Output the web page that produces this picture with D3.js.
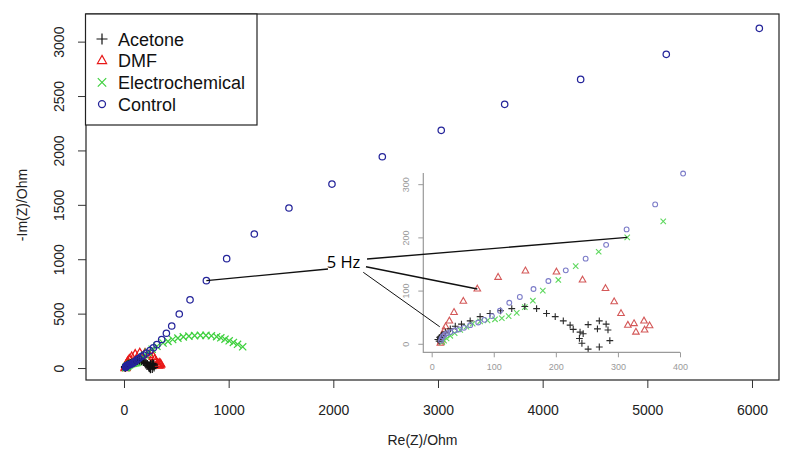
<!DOCTYPE html>
<html><head><meta charset="utf-8">
<script src="https://cdn.jsdelivr.net/npm/d3@7"></script>
<style>body{margin:0;background:#fff}svg{display:block}</style>
</head><body>
<svg id="chart" width="787" height="453"></svg>
<script>
// ---------- data ----------
const seriesNames = ["Acetone", "DMF", "Electrochemical", "Control"];

const acetoneRe = [10,12,13,14,15,16,22,30,38,48,62,78,94,111,129,150,169,185,199,212,223,228,239,244,238,242,252,270,287,284,267,270,281,252];
const acetoneIm = [8,5,12,10,14,16,22,28,33,37,43,51,57,62,66,70,66,57,51,43,35,27,22,19,10,1,-10,-6,6,26,28,43,37,36];

const dmfRe = [14,15,16,17,18,20,22.5,28.5,36,51,73.5,107,151,201,243,280,294,305,316,326,329,343,342,351];
const dmfIm = [1,4,8,12,17,24,32,43,59,80,103,125,137,135,120,104,79,57,35,38,22,26,43,34];

const electroRe = [17,20,24,30,37,46,56,66,78,90,102,113,124,137,150,163,179,204,232,269,315,373,420,465,515,567,620,675,730,783,835,885,925,965,1005,1045,1085,1134];
const electroIm = [3,6,10,15,20,26,32,38,42,44,46,48,52,58,69,81,100,120,146,173,200,230,245,262,275,286,293,298,300,300,296,288,278,265,250,235,218,195];

const controlRe = [15,16,18,21,25,30,37,44,52,62,75,85,97,110,125,142,164,188,216,248,281,314,360,405,456,528,631,787,981,1245,1576,1987,2468,3031,3637,4363,5181,6070];
const controlIm = [6,10,14,17,20,22,25,27,30,35,40,45,52,62,77,88,103,118,138,160,186,215,262,320,386,497,627,803,1005,1232,1471,1691,1942,2185,2424,2653,2883,3122];

const mainXTicks = [0,1000,2000,3000,4000,5000,6000];
const mainYTicks = [0,500,1000,1500,2000,2500,3000];
const insetXTicks = [0,100,200,300,400];
const insetYTicks = [0,100,200,300];

const annoText = "5 Hz";
const annoAnchor = [2097, 974];           // main-plot data coords
const annoLines = [
  {from:[1949,910],  to:[787,803],  panel:"main"},
  {from:[2322,1002], to:[315,200],  panel:"inset"},
  {from:[2312,931],  to:[73.5,103], panel:"inset"},
  {from:[2286,880],  to:[13,32],    panel:"inset"}
];

// ---------- layout ----------
const W = 787, H = 453;
const svg = d3.select("#chart");
svg.append("rect").attr("width", W).attr("height", H).attr("fill", "#fff");

const box = {left:86, right:779, top:14, bottom:380};
const x = d3.scaleLinear().domain([-363, 6258]).range([box.left, box.right]);
const y = d3.scaleLinear().domain([-110, 3254]).range([box.bottom, box.top]);

const ibox = {left:423.3, right:680, top:173, bottom:352.3};
const xi = d3.scaleLinear().domain([-13.5, 400]).range([ibox.left, ibox.right]);
const yi = d3.scaleLinear().domain([-16, 321]).range([ibox.bottom, ibox.top]);

const FONT = "'Liberation Sans', Arial, sans-serif";
const fmt = d3.format("d");

// symbol paths (R pch style)
const symPath = {
  plus:  s => `M${-s},0H${s}M0,${-s}V${s}`,
  cross: s => `M${-s},${-s}L${s},${s}M${-s},${s}L${s},${-s}`,
  tri:   s => `M0,${-s*1.15}L${s},${s*0.62}L${-s},${s*0.62}Z`
};

function zip(a, b){ return a.map((v,i)=>({re:v, im:b[i]})); }
const series = {
  Acetone:         {data: zip(acetoneRe, acetoneIm), sym:"plus"},
  DMF:             {data: zip(dmfRe, dmfIm),         sym:"tri"},
  Electrochemical: {data: zip(electroRe, electroIm), sym:"cross"},
  Control:         {data: zip(controlRe, controlIm), sym:"circle"}
};
const mainColor  = {Acetone:"#111", DMF:"#e81818", Electrochemical:"#3fd03f", Control:"#24249a"};
const insetColor = {Acetone:"#2a2a2a", DMF:"#d45858", Electrochemical:"#5ed85e", Control:"#7c7cc8"};
const drawOrder = ["DMF", "Electrochemical", "Acetone", "Control"];

function drawPoints(g, xs, ys, name, color, size, sw, filter){
  const s = series[name];
  const pts = s.data.filter(filter || (()=>true));
  if (s.sym === "circle") {
    g.selectAll(null).data(pts).enter().append("circle")
      .attr("cx", d=>xs(d.re)).attr("cy", d=>ys(d.im)).attr("r", size)
      .attr("fill","none").attr("stroke", color).attr("stroke-width", sw);
  } else {
    g.selectAll(null).data(pts).enter().append("path")
      .attr("transform", d=>`translate(${xs(d.re)},${ys(d.im)})`)
      .attr("d", symPath[s.sym](size))
      .attr("fill","none").attr("stroke", color).attr("stroke-width", sw);
  }
}

// ---------- main plot ----------
const mainG = svg.append("g");
const mainSize = {plus:4.2, tri:4.2, cross:3.6, circle:3.2};
drawOrder.forEach(n => drawPoints(mainG, x, y, n, mainColor[n], mainSize[series[n].sym], 1.25));

svg.append("rect").attr("x", box.left).attr("y", box.top)
  .attr("width", box.right-box.left).attr("height", box.bottom-box.top)
  .attr("fill","none").attr("stroke","#222").attr("stroke-width",1.2);

const xAxis = svg.append("g").attr("transform", `translate(0,${box.bottom})`)
  .call(d3.axisBottom(x).tickValues(mainXTicks).tickFormat(fmt).tickSize(8).tickSizeOuter(0).tickPadding(17));
xAxis.select(".domain").remove();
xAxis.selectAll("line").attr("stroke","#333");
xAxis.selectAll("text").attr("font-family", FONT).attr("font-size", 14).attr("fill","#222");

const yAxis = svg.append("g").attr("transform", `translate(${box.left},0)`)
  .call(d3.axisLeft(y).tickValues(mainYTicks).tickFormat(fmt).tickSize(8).tickSizeOuter(0));
yAxis.select(".domain").remove();
yAxis.selectAll("line").attr("stroke","#333");
yAxis.selectAll("text").attr("font-family", FONT).attr("font-size", 14).attr("fill","#222")
  .attr("transform","rotate(-90)").attr("x",0).attr("y",-22).attr("dy",0)
  .attr("text-anchor","middle");

svg.append("text").attr("x", (box.left+box.right)/2 - 10).attr("y", 445)
  .attr("text-anchor","middle").attr("font-family", FONT).attr("font-size", 14)
  .attr("fill","#222").text("Re(Z)/Ohm");
svg.append("text").attr("transform","translate(27,205) rotate(-90)")
  .attr("text-anchor","middle").attr("font-family", FONT).attr("font-size", 14)
  .attr("fill","#222").text("-Im(Z)/Ohm");

// ---------- inset ----------
const insetG = svg.append("g");
const inSize = {plus:3.4, tri:3.3, cross:2.7, circle:2.4};
const inFilter = d => d.re <= 410 && d.im <= 325;
drawOrder.forEach(n => drawPoints(insetG, xi, yi, n, insetColor[n], inSize[series[n].sym], 1.1, inFilter));

const IAX = "#9a9a9a";
insetG.append("path")
  .attr("d", `M${ibox.left},${ibox.top}V${ibox.bottom}H${ibox.right}`)
  .attr("fill","none").attr("stroke", IAX).attr("stroke-width", 1.2);
const ixAxis = insetG.append("g").attr("transform", `translate(0,${ibox.bottom})`)
  .call(d3.axisBottom(xi).tickValues(insetXTicks).tickFormat(fmt).tickSize(5).tickSizeOuter(0).tickPadding(6));
ixAxis.select(".domain").remove();
ixAxis.selectAll("line").attr("stroke", IAX);
ixAxis.selectAll("text").attr("font-family", FONT).attr("font-size", 9).attr("fill", IAX);
const iyAxis = insetG.append("g").attr("transform", `translate(${ibox.left},0)`)
  .call(d3.axisLeft(yi).tickValues(insetYTicks).tickFormat(fmt).tickSize(5).tickSizeOuter(0));
iyAxis.select(".domain").remove();
iyAxis.selectAll("line").attr("stroke", IAX);
iyAxis.selectAll("text").attr("font-family", FONT).attr("font-size", 9).attr("fill", IAX)
  .attr("transform","rotate(-90)").attr("x",0).attr("y",-14).attr("dy",0)
  .attr("text-anchor","middle");

// ---------- annotation ----------
const annoG = svg.append("g");
annoLines.forEach((l,i) => {
  const tx = l.panel === "main" ? x(l.to[0]) : xi(l.to[0]);
  const ty = l.panel === "main" ? y(l.to[1]) : yi(l.to[1]);
  annoG.append("line")
    .attr("x1", x(l.from[0])).attr("y1", y(l.from[1]))
    .attr("x2", tx).attr("y2", ty)
    .attr("stroke","#111").attr("stroke-width", i === 3 ? 1 : 1.4);
});
annoG.append("text").attr("x", x(annoAnchor[0])).attr("y", y(annoAnchor[1]) + 6)
  .attr("text-anchor","middle").attr("font-family","'Open Sans', 'Noto Sans', sans-serif")
  .attr("font-size", 16.5).attr("fill","#000").text(annoText);

// ---------- legend ----------
const leg = svg.append("g");
leg.append("rect").attr("x", 85.5).attr("y", 14).attr("width", 171.5).attr("height", 111)
  .attr("fill","#fff").attr("stroke","#222").attr("stroke-width",1.2);
const legSize = {plus:5.5, tri:4.6, cross:4.2, circle:3.5};
seriesNames.forEach((n,i) => {
  const cy = 39 + i*21.7;
  const sym = series[n].sym;
  if (sym === "circle") {
    leg.append("circle").attr("cx",102).attr("cy",cy).attr("r",legSize.circle)
      .attr("fill","none").attr("stroke",mainColor[n]).attr("stroke-width",1.3);
  } else {
    leg.append("path").attr("transform",`translate(102,${cy})`).attr("d", symPath[sym](legSize[sym]))
      .attr("fill","none").attr("stroke",mainColor[n]).attr("stroke-width",1.2);
  }
  leg.append("text").attr("x",118).attr("y",cy+6.5).attr("font-family",FONT)
    .attr("font-size",18).attr("fill","#111").text(n);
});
</script>
</body></html>
